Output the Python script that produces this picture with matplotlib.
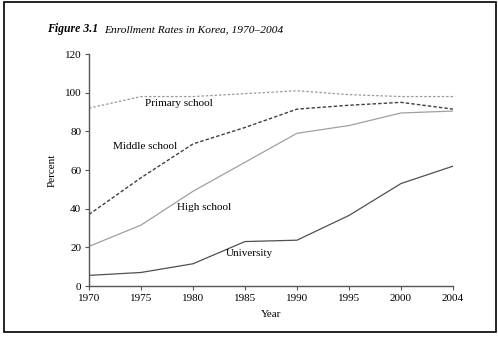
import matplotlib.pyplot as plt
from matplotlib.patches import Rectangle

years = ["1970", "1975", "1980", "1985", "1990", "1995", "2000", "2004"]
primary = [92, 98, 98, 99.5, 101, 99, 98, 98]
middle = [37, 56, 73.5, 82, 91.5, 93.5, 95, 91.5]
high = [20.5, 31.5, 49, 64, 79, 83, 89.5, 90.5]
university = [5.5, 7, 11.5, 23, 23.7, 36.5, 53, 62]

plt.rcParams['font.family'] = ['Liberation Serif', 'DejaVu Serif']

fig = plt.figure(figsize=(4.98, 3.37), dpi=100)
ax = fig.add_axes([0.1787, 0.1513, 0.7309, 0.6884])

x = list(range(len(years)))
ax.plot(x, primary, color="#9a9a9a", linestyle=(0, (2, 1.5)), linewidth=0.9)
ax.plot(x, middle, color="#404040", linestyle=(0, (2.5, 1.5)), linewidth=1.0)
ax.plot(x, high, color="#a0a0a0", linestyle="-", linewidth=0.9)
ax.plot(x, university, color="#505050", linestyle="-", linewidth=0.9)

ax.text(1.73, 94.2, "Primary school", fontsize=8, ha="center", va="center")
ax.text(1.08, 72, "Middle school", fontsize=8, ha="center", va="center")
ax.text(2.22, 40.5, "High school", fontsize=8, ha="center", va="center")
ax.text(3.08, 16.6, "University", fontsize=8, ha="center", va="center")

ax.set_xlim(0, 7)
ax.set_ylim(0, 120)
ax.set_xticks(x)
ax.set_xticklabels(years)
ax.set_yticks(range(0, 121, 20))
ax.tick_params(labelsize=8, length=3, width=0.8, color="#555555", pad=2.5)
for s in ["top", "right"]:
    ax.spines[s].set_visible(False)
for s in ["left", "bottom"]:
    ax.spines[s].set_color("#555555")
    ax.spines[s].set_linewidth(1.0)
ax.set_xlabel("Year", fontsize=8, labelpad=5)
ax.set_ylabel("Percent", fontsize=8, labelpad=6)

fig.text(0.094, 0.913, "Figure 3.1", fontsize=8.5, style="italic", weight="bold", va="center")
fig.text(0.209, 0.913, "Enrollment Rates in Korea, 1970\u20132004", fontsize=8.2, style="italic", va="center")

fig.patches.append(Rectangle((4 / 498, 1 - 332 / 337), 492 / 498, 330 / 337,
                             transform=fig.transFigure, fill=False, edgecolor="black", linewidth=1.2))

fig.savefig("out.png", dpi=100)
